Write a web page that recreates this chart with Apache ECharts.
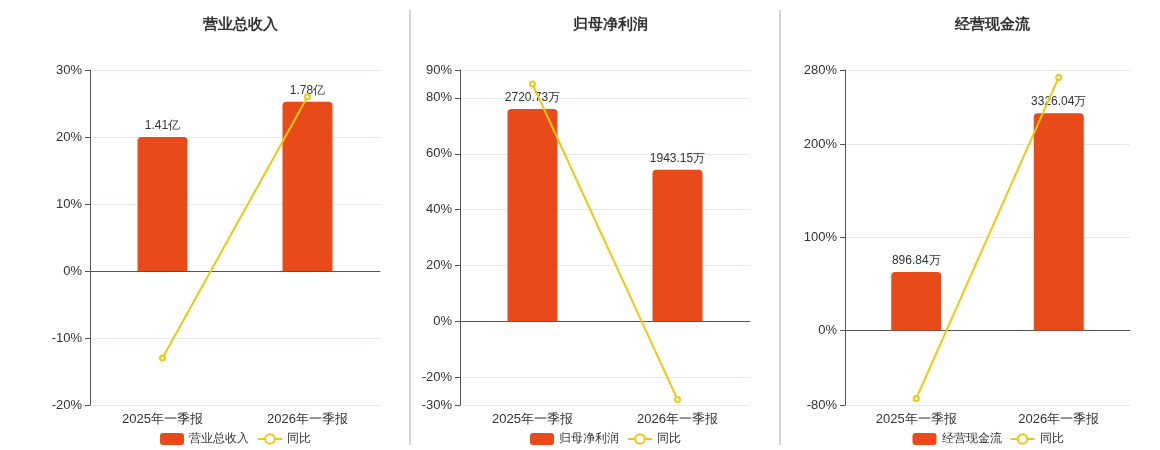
<!DOCTYPE html><html><head><meta charset="utf-8"><script src="https://cdn.jsdelivr.net/npm/echarts@6/dist/echarts.min.js"></script></head><body style="margin:0"><div id="c" style="width:1160px;height:450px"></div><script>
const categories=['2025年一季报','2026年一季报'];
const titles=['营业总收入','归母净利润','经营现金流'];
const barValues=[[1.41,1.78],[2720.73,1943.15],[896.84,3326.04]];
const barLabels=[['1.41亿','1.78亿'],['2720.73万','1943.15万'],['896.84万','3326.04万']];
const barPct=[20,76,63];
const yoy=[[-13,26],[85,-28],[-73,272]];
const axMin=[-20,-30,-80],axMax=[30,90,280];
const tickVals=[[-20,-10,0,10,20,30],[-30,-20,0,20,40,60,80,90],[-80,0,100,200,280]];
const grids=[[90,380],[460,750],[845,1130]];
const ch=echarts.init(document.getElementById('c'));
const o={title:[],grid:[],xAxis:[],yAxis:[],series:[],legend:[],graphic:[
{type:'line',shape:{x1:410,y1:10,x2:410,y2:445},style:{stroke:'#aaa'}},
{type:'line',shape:{x1:780,y1:10,x2:780,y2:445},style:{stroke:'#aaa'}}]};
for(let i=0;i<3;i++){
 const cx=(grids[i][0]+grids[i][1])/2;
 o.title.push({text:titles[i],left:cx,top:12,textAlign:'center',textStyle:{fontSize:15,fontWeight:'bold',color:'#333'}});
 o.grid.push({left:grids[i][0],width:grids[i][1]-grids[i][0],top:70,height:335});
 o.xAxis.push({type:'category',gridIndex:i,data:categories,axisLine:{onZero:true,lineStyle:{color:'#555'}},axisTick:{lineStyle:{color:'#555'}},axisLabel:{color:'#333',fontSize:13,margin:10,interval:0}});
 // hack for label at bottom: labels drawn at axis; place via second hidden xAxis
 o.xAxis[o.xAxis.length-1].axisLabel.show=false;
 o.xAxis.push({type:'category',gridIndex:i,data:categories,position:'bottom',axisLine:{show:false,onZero:false},axisTick:{show:false},axisLabel:{color:'#333',fontSize:13,margin:8}});
 const s=barValues[i][0]/barPct[i];
 o.yAxis.push({type:'value',gridIndex:i,min:axMin[i],max:axMax[i],axisLine:{show:true,lineStyle:{color:'#555'}},axisTick:{show:true,customValues:tickVals[i]},axisLabel:{color:'#333',fontSize:13,formatter:'{value}%',customValues:tickVals[i]},splitLine:{lineStyle:{color:'#e6e9ef'}}});
 o.yAxis.push({type:'value',gridIndex:i,min:axMin[i]*s,max:axMax[i]*s,show:false,splitLine:{show:false}});
 o.series.push({type:'bar',name:titles[i],xAxisIndex:2*i,yAxisIndex:2*i+1,data:barValues[i],barWidth:50,itemStyle:{color:'#e84a1a',borderRadius:[4,4,0,0]},
  label:{show:true,position:'top',color:'#333',fontSize:12,formatter:p=>barLabels[i][p.dataIndex]}});
 o.series.push({type:'line',name:'同比',xAxisIndex:2*i,yAxisIndex:2*i,data:yoy[i],symbol:'emptyCircle',symbolSize:5,lineStyle:{color:'#f2c80f',width:2},itemStyle:{color:'#f2c80f'}});
 o.legend.push({left:cx,top:428,textAlign:'center',itemWidth:24,itemHeight:12,textStyle:{fontSize:12,color:'#333'},data:[titles[i],'同比'].map(n=>({name:n}))});
}
o.legend.forEach((l,i)=>{l.left=grids[i][0]+(grids[i][1]-grids[i][0])/2-80;delete l.textAlign;});
ch.setOption(o);
</script></body></html>
